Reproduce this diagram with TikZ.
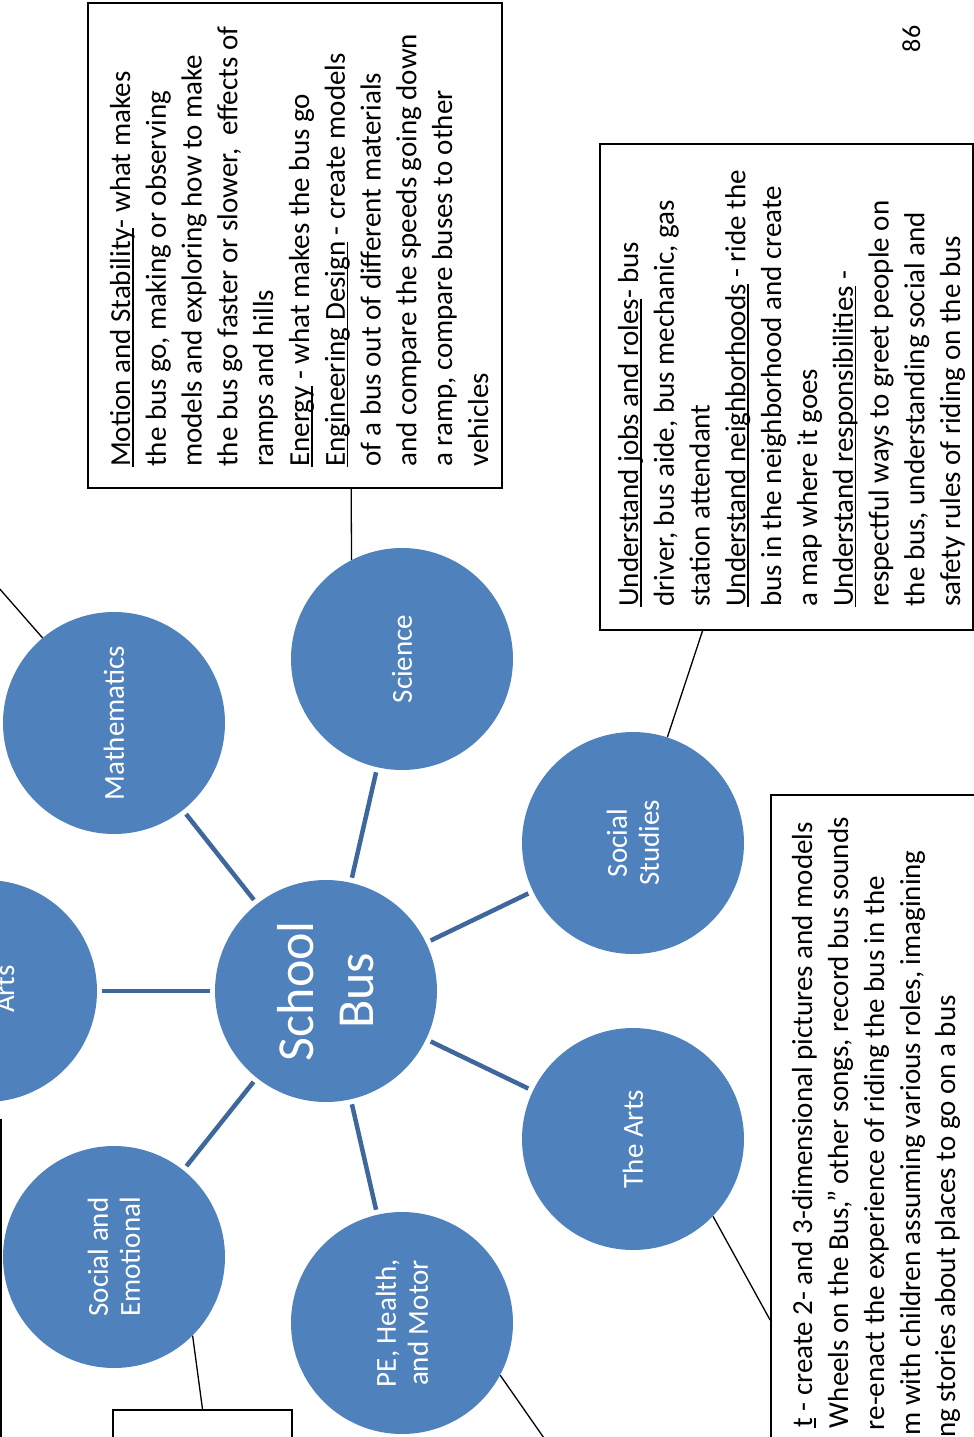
\documentclass[tikz,border=0pt]{standalone}
\usepackage{fontspec}
\setmainfont{Carlito}
\newcommand{\myul}[1]{\setbox0\hbox{#1}\rlap{\rule[-3.5pt]{\wd0}{1.6pt}}\box0{}}
\definecolor{circfill}{RGB}{79,129,189}
\definecolor{spoke}{RGB}{62,104,156}
\begin{document}
\begin{tikzpicture}[x=1pt,y=-1pt,
  topic/.style={circle, fill=circfill, draw=none, minimum size=222pt, inner sep=0pt,
    text=white, align=center, rotate=90, font=\fontsize{29}{32}\selectfont},
  hub/.style={topic, font=\fontsize{52}{60}\selectfont},
  spokeline/.style={draw=spoke, line width=4.5pt, shorten <=5pt, shorten >=5pt},
  linkline/.style={draw=black, line width=1.3pt},
  box/.style={draw=black, line width=1.8pt, fill=none, inner sep=0pt},
  rtext/.style={rotate=90, inner sep=0pt, font=\fontsize{29}{36}\selectfont, text=black},
  lbl/.style={rotate=90, inner sep=0pt, text=white, font=\fontsize{29}{32}\selectfont},
]
\useasboundingbox (0,0) rectangle (974,1437);
\clip (0,0) rectangle (974,1437);

% boxes
\node[box, minimum width=414pt, minimum height=485pt] (scibox) at (295,245.5) {};
\node[box, minimum width=373pt, minimum height=486pt] (ssbox) at (786.5,387) {};
\node[box, minimum width=400pt, minimum height=1050pt] (artbox) at (971,1320) {};
\node[box, minimum width=179pt, minimum height=190pt] (smallbox) at (202.5,1505) {};
\node[box, minimum width=301pt, minimum height=580pt] (leftbox) at (-149.5,1410) {};

% circles
\node[hub] (bus) at (326,991) {School\\Bus};
\node[topic] (math) at (114,723) {Mathematics};
\node[topic] (sci) at (402,659) {Science};
\node[topic] (ss) at (633,843) {Social\\Studies};
\node[topic] (arts) at (633,1139) {The Arts};
\node[topic] (pe) at (402,1323) {PE, Health,\\and Motor};
\node[topic] (soc) at (114,1257) {Social and\\Emotional};
\node[topic] (artl) at (-14,991) {};
\node[lbl, anchor=base] (artllbl) at (14,989) {Arts};

% spokes
\draw[spokeline] (bus) -- (math);
\draw[spokeline] (bus) -- (sci);
\draw[spokeline] (bus) -- (ss);
\draw[spokeline] (bus) -- (arts);
\draw[spokeline] (bus) -- (pe);
\draw[spokeline] (bus) -- (soc);
\draw[spokeline] (bus) -- (artl);

% thin connectors (circle anchors are in the rotated node frame)
\coordinate (mathend) at (-30,555);
\coordinate (peend) at (560,1461);
\draw[linkline] (scibox.-77.9) -- (sci.27);
\draw[linkline] (ssbox.-109) -- (ss.-18.4);
\draw[linkline] (math.40.4) -- (mathend);
\draw[linkline] (arts.-134) -- (artbox.west);
\draw[linkline] (soc.-135.7) -- (smallbox.north);
\draw[linkline] (pe.-118.2) -- (peend);

% science text
\node[rtext, anchor=base west] (sc1) at (130,467) {\myul{Motion and Stability}- what makes};
\node[rtext, anchor=base west] (sc2) at (165.8,467) {the bus go, making or observing};
\node[rtext, anchor=base west] (sc3) at (201.6,467) {models and exploring how to make};
\node[rtext, anchor=base west] (sc4) at (237.4,467) {the bus go faster or slower,\ \ effects of};
\node[rtext, anchor=base west] (sc5) at (273.2,467) {ramps and hills};
\node[rtext, anchor=base west] (sc6) at (309,467) {\myul{Energy} - what makes the bus go};
\node[rtext, anchor=base west] (sc7) at (344.8,467) {\myul{Engineering Design} - create models};
\node[rtext, anchor=base west] (sc8) at (380.6,467) {of a bus out of different materials};
\node[rtext, anchor=base west] (sc9) at (416.4,467) {and compare the speeds going down};
\node[rtext, anchor=base west] (sc10) at (452.2,467) {a ramp, compare buses to other};
\node[rtext, anchor=base west] (sc11) at (488,467) {vehicles};

% social studies text
\node[rtext, anchor=base west] (ss1) at (638,607) {\myul{Understand jobs and roles}- bus};
\node[rtext, anchor=base west] (ss2) at (673.8,607) {driver, bus aide, bus mechanic, gas};
\node[rtext, anchor=base west] (ss3) at (709.6,607) {station attendant};
\node[rtext, anchor=base west] (ss4) at (745.4,607) {\myul{Understand neighborhoods} - ride the};
\node[rtext, anchor=base west] (ss5) at (781.2,607) {bus in the neighborhood and create};
\node[rtext, anchor=base west] (ss6) at (817,607) {a map where it goes};
\node[rtext, anchor=base west] (ss7) at (852.8,607) {\myul{Understand responsibilities} -};
\node[rtext, anchor=base west] (ss8) at (888.6,607) {respectful ways to greet people on};
\node[rtext, anchor=base west] (ss9) at (924.4,607) {the bus, understanding social and};
\node[rtext, anchor=base west] (ss10) at (960.2,607) {safety rules of riding on the bus};

% arts text (cut at page edge)
\node[rtext, anchor=base east] (ar1) at (812,822) {\myul{t} - create 2- and 3-dimensional pictures and models};
\node[rtext, anchor=base east] (ar2) at (848,817) {Wheels on the Bus," other songs, record bus sounds};
\node[rtext, anchor=base east] (ar3) at (884,876) {re-enact the experience of riding the bus in the};
\node[rtext, anchor=base east] (ar4) at (920,850) {m with children assuming various roles, imagining};
\node[rtext, anchor=base east] (ar5) at (955,995) {ng stories about places to go on a bus};

% page number
\node[rtext, anchor=base, font=\fontsize{26}{30}\selectfont] (pnum) at (920,39) {86};
\end{tikzpicture}
\end{document}
